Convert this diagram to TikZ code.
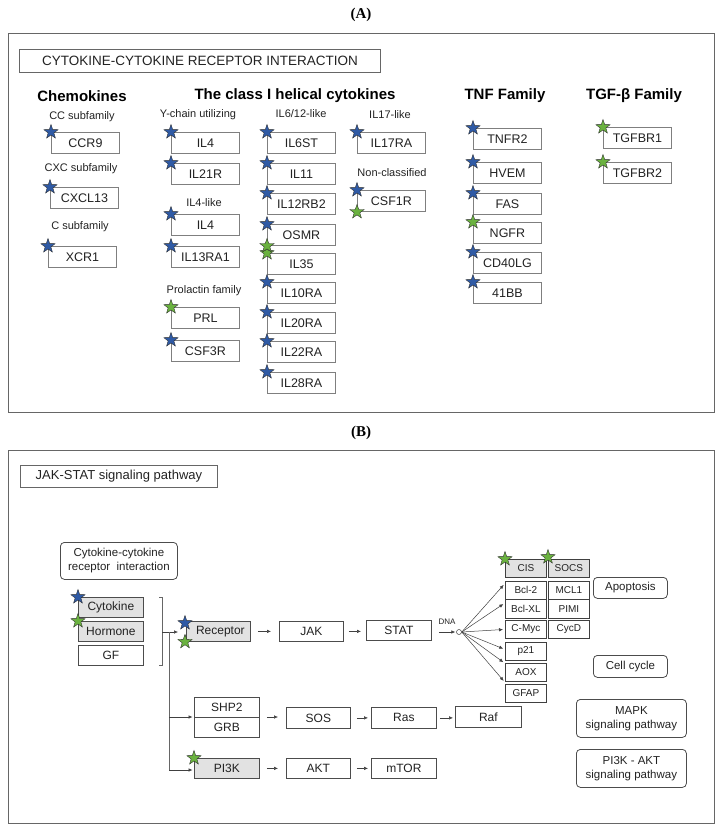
\documentclass[tikz,border=0pt]{standalone}
\usepackage{fontspec}
\setmainfont{Liberation Sans}
\newfontfamily\lserif{Liberation Serif}
\usetikzlibrary{shapes.geometric,arrows.meta}
\definecolor{sblue}{HTML}{2F5AA5}
\definecolor{sgreen}{HTML}{6AB23F}
\definecolor{fgray}{HTML}{E2E2E2}
\definecolor{bgray}{HTML}{7F7F7F}
\definecolor{tcol}{HTML}{222222}
\newcommand\fs[1]{\fontsize{#1}{#1}\selectfont}
\newcommand\ab[4]{\node[abox] (#1) at (#2,#3) {#4};}
\tikzset{
 abox/.style={draw=bgray, line width=0.9pt, fill=white, minimum width=68pt, minimum height=21pt, inner sep=0pt, anchor=north west, font=\fs{12.5}, text=tcol},
 sublab/.style={font=\fs{11}, text=tcol, inner sep=0pt},
 head/.style={font=\bfseries\fs{15}, text=black, inner sep=0pt},
 starb/.style={star, star points=5, star point ratio=2.5, minimum size=15pt, inner sep=0pt, draw=black!85, line width=0.35pt, fill=sblue},
 starg/.style={starb, fill=sgreen},
 frame/.style={draw=black!60, line width=1.1pt},
 bbox/.style={draw=black!70, line width=0.8pt, fill=white, minimum height=20pt, minimum width=65pt, inner sep=0pt, anchor=north west, font=\fs{12}, text=tcol},
 gbox/.style={bbox, fill=fgray},
 sbox/.style={draw=black!75, line width=0.8pt, fill=white, minimum height=18pt, minimum width=41pt, inner sep=0pt, anchor=north west, font=\fs{10}, text=tcol},
 sgbox/.style={sbox, fill=fgray},
 rbox/.style={draw=black!70, rounded corners=4pt, line width=0.8pt, inner sep=0pt, anchor=north west, font=\fontsize{11.5}{14}\selectfont, align=center, text=tcol},
 arr/.style={-{Latex[length=4pt,width=3.5pt]}, line width=0.5pt, draw=black!75},
 sarr/.style={arr, shorten <=7pt, shorten >=8pt},
 plain/.style={line width=0.5pt, draw=black!60},
}
\begin{document}
\begin{tikzpicture}[x=1pt,y=-1pt]
\useasboundingbox (0,0) rectangle (722,831);
% ---------------- Panel A ----------------
\node[font=\lserif\bfseries\fs{15}] (labA) at (361,15) {(A)};
\node[frame, minimum width=706pt, minimum height=379pt, anchor=north west, inner sep=0pt] (frameA) at (8,33) {};
\node[draw=black!60, line width=0.9pt, minimum width=361pt, minimum height=23pt, anchor=north west, inner sep=0pt, font=\fs{13.5}, text=tcol] (titleA) at (19,49) {CYTOKINE-CYTOKINE RECEPTOR INTERACTION};

\node[head] (hchem) at (82,96) {Chemokines};
\node[head] (hclass) at (295,96) {The class I helical cytokines};
\node[head] (htnf) at (505,96) {TNF Family};
\node[head] (htgf) at (634,96) {TGF-β Family};

\node[sublab] (lcc) at (82,117) {CC subfamily};
\node[sublab] (lcxc) at (81,169) {CXC subfamily};
\node[sublab] (lc) at (80,227) {C subfamily};
\node[sublab] (lyc) at (198,115) {Y-chain utilizing};
\node[sublab] (lil4) at (204,203) {IL4-like};
\node[sublab] (lprl) at (204,291) {Prolactin family};
\node[sublab] (lil6) at (301,114) {IL6/12-like};
\node[sublab] (lil17) at (390,115) {IL17-like};
\node[sublab] (lnon) at (392,173) {Non-classified};

\ab{ccr9}{51}{132}{CCR9}
\ab{cxcl13}{50}{187}{CXCL13}
\ab{xcr1}{48}{246}{XCR1}

\ab{il4a}{171}{132}{IL4}
\ab{il21r}{171}{163}{IL21R}
\ab{il4b}{171}{214}{IL4}
\ab{il13ra1}{171}{246}{IL13RA1}
\ab{prl}{171}{307}{PRL}
\ab{csf3r}{171}{340}{CSF3R}

\ab{il6st}{267}{132}{IL6ST}
\ab{il11}{267}{163}{IL11}
\ab{il12rb2}{267}{193}{IL12RB2}
\ab{osmr}{267}{224}{OSMR}
\ab{il35}{267}{253}{IL35}
\ab{il10ra}{267}{282}{IL10RA}
\ab{il20ra}{267}{312}{IL20RA}
\ab{il22ra}{267}{341}{IL22RA}
\ab{il28ra}{267}{372}{IL28RA}

\ab{il17ra}{357}{132}{IL17RA}
\ab{csf1r}{357}{190}{CSF1R}

\ab{tnfr2}{473}{128}{TNFR2}
\ab{hvem}{473}{162}{HVEM}
\ab{fas}{473}{193}{FAS}
\ab{ngfr}{473}{222}{NGFR}
\ab{cd40lg}{473}{252}{CD40LG}
\ab{bb41}{473}{282}{41BB}

\ab{tgfbr1}{603}{127}{TGFBR1}
\ab{tgfbr2}{603}{162}{TGFBR2}

\foreach \n in {ccr9,cxcl13,xcr1,il4a,il21r,il4b,il13ra1,csf3r,il6st,il11,il12rb2,osmr,il10ra,il20ra,il22ra,il28ra,il17ra,csf1r,tnfr2,hvem,fas,cd40lg,bb41}
  \node[starb] (sb-\n) at (\n.north west) {};
\foreach \n in {prl,il35,ngfr,tgfbr1,tgfbr2}
  \node[starg] (sg-\n) at (\n.north west) {};
\node[starg] (sg-osmr) at (osmr.south west) {};
\node[starg] (sg-csf1r) at (csf1r.south west) {};

% ---------------- Panel B ----------------
\node[font=\lserif\bfseries\fs{15}] (labB) at (361,433) {(B)};
\node[frame, minimum width=706pt, minimum height=373pt, anchor=north west, inner sep=0pt] (frameB) at (8,450) {};
\node[draw=black!60, line width=0.9pt, minimum width=197pt, minimum height=22pt, anchor=north west, inner sep=0pt, font=\fs{13}, text=tcol] (titleB) at (20,465) {JAK-STAT signaling pathway};

\node[rbox, minimum width=117pt, minimum height=37pt] (crc) at (60,542) {Cytokine-cytokine\\receptor\ \ interaction};

\node[gbox] (cyto) at (78,597) {Cytokine};
\node[gbox] (horm) at (78,621) {Hormone};
\node[bbox] (gf) at (78,645) {GF};
\node[starb] (sb-cyto) at (cyto.north west) {};
\node[starg] (sg-horm) at (horm.north west) {};

\coordinate (brT) at (162,597);
\coordinate (brB) at (162,665);
\coordinate (brM) at (162,632);
\draw[plain] ([xshift=-3pt]brT) -- (brT) -- (brB) -- ([xshift=-3pt]brB);

\node[gbox, minimum width=64pt] (rec) at (186,621) {\hspace{4pt}Receptor};
\node[starb] (sb-rec) at ([xshift=-1pt,yshift=-2pt]rec.north west) {};
\node[starg] (sg-rec) at ([xshift=-1pt]rec.south west) {};
\node[bbox, minimum width=64pt] (jak) at (279,621) {JAK};
\node[bbox] (stat) at (366,620) {STAT};

\draw[arr, shorten >=8pt] (brM) -- (brM -| rec.west);
\coordinate (vT) at (169,632);
\coordinate (vS) at (169,717);
\coordinate (vP) at (169,770);
\draw[plain] (vT) -- (vP);

\node[bbox, minimum height=20pt] (shp2) at (194,697) {SHP2};
\node[bbox, minimum height=19.5pt] (grb) at (194,717) {GRB};
\node[bbox, minimum width=64pt, minimum height=21pt] (sos) at (286,707) {SOS};
\node[bbox, minimum height=21pt] (ras) at (371,707) {Ras};
\node[bbox, minimum width=66pt, minimum height=21pt] (raf) at (455,706) {Raf};

\node[gbox] (pi3k) at (194,758) {PI3K};
\node[starg] (sg-pi3k) at (pi3k.north west) {};
\node[bbox, minimum width=64pt] (akt) at (286,758) {AKT};
\node[bbox] (mtor) at (371,758) {mTOR};

\draw[arr, shorten >=1.5pt] (vS) -- (vS -| shp2.west);
\draw[arr, shorten >=1.5pt] (vP) -- (vP -| pi3k.west);

\draw[sarr] (rec.east) -- (rec.east -| jak.west);
\draw[arr, shorten <=5pt, shorten >=5pt] (jak.east) -- (jak.east -| stat.west);
\draw[sarr] (grb.north east) -- (grb.north east -| sos.west);
\draw[arr, shorten <=6pt, shorten >=3pt] (sos.east) -- (sos.east -| ras.west);
\draw[arr, shorten <=3pt, shorten >=2pt] (ras.east) -- (ras.east -| raf.west);
\draw[sarr] (pi3k.east) -- (pi3k.east -| akt.west);
\draw[arr, shorten <=6pt, shorten >=3pt] (akt.east) -- (akt.east -| mtor.west);

\node[font=\fs{8}, text=tcol, inner sep=0pt] (dna) at (447,622) {DNA};
\node[circle, draw=black!75, line width=0.5pt, inner sep=0pt, minimum size=5pt] (dnac) at (459,632) {};
\draw[arr, shorten <=7pt, shorten >=1pt] (stat.east |- dnac) -- (dnac.west);

\node[sgbox] (cis) at (505,559) {CIS};
\node[sgbox] (socs) at (548,559) {SOCS};
\node[starg] (sg-cis) at (cis.north west) {};
\node[starg] (sg-socs) at ([yshift=2pt]socs.north west) {};
\node[sbox] (bcl2) at (505,581) {Bcl-2};
\node[sbox, minimum height=19pt] (bclxl) at (505,599) {Bcl-XL};
\node[sbox] (mcl1) at (548,581) {MCL1};
\node[sbox, minimum height=19pt] (pimi) at (548,599) {PIMI};
\node[sbox] (cmyc) at (505,620) {C-Myc};
\node[sbox] (cycd) at (548,620) {CycD};
\node[sbox] (p21) at (505,642) {p21};
\node[sbox] (aox) at (505,663) {AOX};
\node[sbox] (gfap) at (505,684) {GFAP};

\draw[arr, shorten >=2pt] (dnac.east) -- ([yshift=7pt]bcl2.west);
\draw[arr, shorten >=2pt] (dnac.east) -- ([yshift=6pt]bclxl.west);
\draw[arr, shorten >=2pt] (dnac.east) -- ([yshift=0pt]cmyc.west);
\draw[arr, shorten >=2pt] (dnac.east) -- ([yshift=2pt]p21.west);
\draw[arr, shorten >=2pt] (dnac.east) -- ([yshift=9pt]aox.west);
\draw[arr, shorten >=2pt] (dnac.east) -- ([yshift=11pt]gfap.west);

\node[rbox, minimum width=74pt, minimum height=21pt] (apop) at (593,577) {Apoptosis};
\node[rbox, minimum width=74pt, minimum height=22pt] (ccyc) at (593,655) {Cell cycle};
\node[rbox, minimum width=110pt, minimum height=38pt] (mapk) at (576,699) {MAPK\\signaling pathway};
\node[rbox, minimum width=110pt, minimum height=38pt] (pakt) at (576,749) {PI3K - AKT\\signaling pathway};
\end{tikzpicture}
\end{document}
